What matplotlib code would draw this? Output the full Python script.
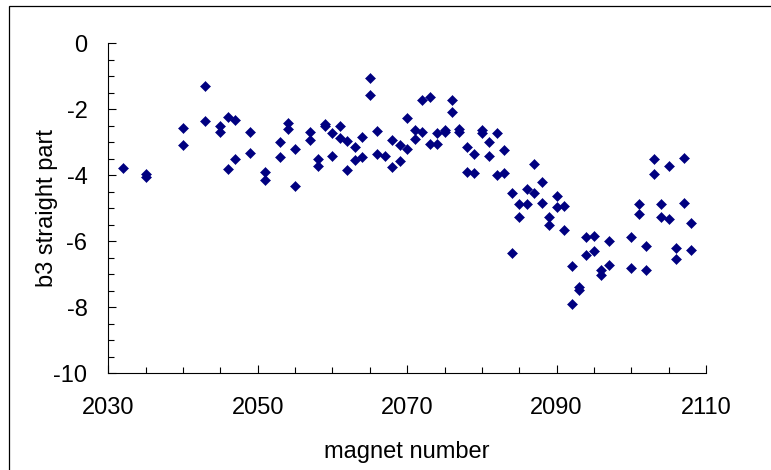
import matplotlib

matplotlib.use("Agg")
import matplotlib.pyplot as plt
from matplotlib.patches import Rectangle
from matplotlib.ticker import FixedLocator, MultipleLocator

magnet = [
    2032, 2035, 2035, 2040, 2040, 2043, 2043, 2045, 2045, 2046, 2046,
    2047, 2047, 2049, 2049, 2051, 2051, 2053, 2053, 2054, 2054, 2055, 2055,
    2057, 2057, 2058, 2058, 2059, 2059, 2060, 2060, 2061, 2061, 2062, 2062,
    2063, 2063, 2064, 2064, 2065, 2065, 2066, 2066, 2067, 2068, 2068,
    2069, 2069, 2070, 2070, 2071, 2071, 2072, 2072, 2073, 2073, 2074, 2074,
    2075, 2075, 2076, 2076, 2077, 2077, 2078, 2078, 2079, 2079, 2080, 2080,
    2081, 2081, 2082, 2082, 2083, 2083, 2084, 2084, 2085, 2085, 2086, 2086,
    2087, 2087, 2088, 2088, 2089, 2089, 2090, 2090, 2091, 2091, 2092, 2092,
    2093, 2093, 2094, 2094, 2095, 2095, 2096, 2096, 2097, 2097, 2100, 2100,
    2101, 2101, 2102, 2102, 2103, 2103, 2104, 2104, 2105, 2105, 2106, 2106,
    2107, 2107, 2108, 2108,
]
b3_straight = [
    -3.79, -3.97, -4.04, -2.58, -3.08, -1.29, -2.35, -2.50, -2.70, -2.22, -3.82,
    -2.32, -3.50, -2.68, -3.33, -3.89, -4.15, -3.00, -3.46, -2.42, -2.61, -3.21, -4.32,
    -2.68, -2.93, -3.52, -3.72, -2.45, -2.50, -2.71, -3.42, -2.50, -2.86, -2.96, -3.83,
    -3.15, -3.53, -2.85, -3.45, -1.04, -1.58, -2.65, -3.36, -3.41, -2.93, -3.76,
    -3.08, -3.56, -2.27, -3.21, -2.63, -2.89, -1.72, -2.68, -1.63, -3.05, -2.71, -3.05,
    -2.64, -2.69, -1.72, -2.07, -2.60, -2.68, -3.15, -3.91, -3.36, -3.94, -2.64, -2.71,
    -2.99, -3.42, -2.73, -3.99, -3.23, -3.93, -4.53, -6.34, -4.88, -5.27, -4.42, -4.88,
    -3.65, -4.55, -4.21, -4.85, -5.27, -5.51, -4.63, -4.96, -4.92, -5.67, -6.74, -7.90,
    -7.39, -7.48, -5.86, -6.40, -5.83, -6.30, -6.87, -7.03, -6.00, -6.71, -5.88, -6.82,
    -4.88, -5.18, -6.14, -6.86, -3.50, -3.96, -4.88, -5.27, -3.71, -5.32, -6.21, -6.54,
    -3.47, -4.85, -5.45, -6.25,
]
x_major = [2030, 2050, 2070, 2090, 2110]

plt.rcParams.update(
    {
        "font.family": ["Liberation Sans", "DejaVu Sans"],
        "font.size": 17,
        "axes.linewidth": 0.8,
        "axes.unicode_minus": False,
    }
)

fig = plt.figure(figsize=(7.71, 4.70), dpi=100)
ax = fig.add_axes([0.1405, 0.2057, 0.7752, 0.7022])

# chart-area border, open at right and bottom like the original crop
fig.patches.append(
    Rectangle((9 / 771, -0.05), 1.1, 1.05 - 6 / 470, transform=fig.transFigure,
              fill=False, edgecolor="black", linewidth=0.9)
)

ax.plot(magnet, b3_straight, linestyle="none", marker="D", markersize=5.0,
        color="#000080", markeredgewidth=0.4)

ax.set_xlim(2030, 2110)
ax.set_ylim(-10, 0)
ax.xaxis.set_major_locator(FixedLocator(x_major))
ax.xaxis.set_minor_locator(MultipleLocator(5))
ax.yaxis.set_major_locator(MultipleLocator(2))
ax.yaxis.set_minor_locator(MultipleLocator(0.5))

ax.spines["top"].set_visible(False)
ax.spines["right"].set_visible(False)
ax.tick_params(which="major", direction="in", length=5.8, width=0.8, color="black")
ax.tick_params(which="minor", direction="in", length=4.0, width=0.8, color="black")
ax.tick_params(axis="x", which="major", pad=17)
ax.tick_params(axis="y", which="major", pad=15)

ax.set_xlabel("magnet number", fontsize=17, labelpad=16)
ax.set_ylabel("b3 straight part", fontsize=17)
ax.yaxis.set_label_coords(-0.084, 0.5)

fig.savefig("out.png", dpi=100)
